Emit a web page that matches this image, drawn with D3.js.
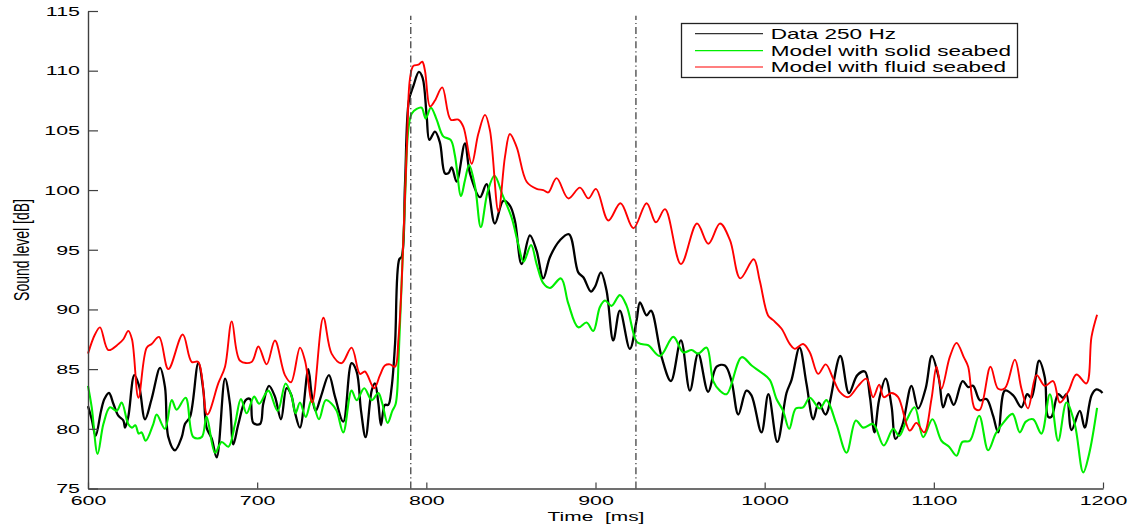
<!DOCTYPE html>
<html>
<head>
<meta charset="utf-8">
<script src="https://cdn.jsdelivr.net/npm/d3@7"></script>
<style>
  html, body { margin: 0; padding: 0; background: #fff; }
  svg { display: block; font-family: "Liberation Sans", Arial, Helvetica, sans-serif; }
</style>
</head>
<body>
<svg id="chart" width="1136" height="526"></svg>
<script>
// Measured sound level at 250 Hz (time in ms, level in dB)
const dataTime = [600,602.2,604.5,607.7,609.7,612.4,615,617.9,620.9,621.9,623.8,627.4,630.2,633.7,637.6,642.6,645.5,647.5,651.4,655.4,657.3,660.3,665.2,668.2,670.1,673.1,676.1,681,683.9,685.9,688.9,693.2,695.8,697.7,701.7,703.6,707,710.5,714.1,717.4,720,722.3,725.3,730.2,732.2,734.6,737.7,742.4,746,750.9,755.8,758.8,761.4,764.1,767.7,769.6,771.6,773.2,775.5,777.5,779.5,781.5,784,785.4,787.4,789.7,792.3,795.6,797.8,800.2,801.8,805.1,808,811,813,815,817.9,822.8,825.8,831.7,835.6,840.5,845.5,849.4,852.4,856.3,861.2,865.2,869.1,873.1,879,884.3,889.8,892.8,897.3,899.7,903.2,906.5,910.5,914.4,920.3,924.3,926.3,930.2,932.8,939.1,944.6,950.5,955.8,960.7,966.6,971.6,976.5,980.4,984.4,989.2,992.2,998.1,1002.2,1007.5,1012.9,1015.9,1020.6,1024.7,1028.7,1032,1036,1044.7,1049.8,1054.8,1059.2,1062.2,1064.9,1067.6,1071.5,1075,1077.4,1081.4,1086.8,1090.7,1095.2,1098.8,1103,1105.5,1108.5,1111.8,1117,1120.3,1123.2,1127.2,1131.1,1135,1138,1142,1146.9,1151.8,1155.2,1157.7,1162.2,1165.6,1167.6,1169.5,1173.5,1176.4,1178.4,1181.4,1186.3,1189.2,1193.2,1196.1,1198.1,1199.7];
const dataLevel = [81.9,80.8,79.4,81.5,82.5,83.0,82.1,81.1,80.7,80.1,81.0,84.5,83.6,80.8,82.5,85.1,83.5,79.3,78.2,79.3,80.4,81.0,85.5,83.2,80.1,79.2,77.6,84.2,82.1,78.7,80.4,82.4,82.5,80.5,80.4,82.1,83.6,82.7,80.8,83.4,82.9,81.4,80.1,85.0,82.9,81.5,82.7,84.5,82.7,80.6,85.5,84.8,81.5,79.3,83.2,83.8,82.2,80.3,82.0,82.0,83.5,87.1,94.2,94.4,100.5,107.5,108.7,109.9,109.4,106.2,104.2,104.9,104.0,101.4,101.4,101.9,100.7,103.9,101.4,99.4,100.5,97.2,99.1,98.7,97.4,93.8,96.2,94.9,92.6,94.4,95.8,96.3,93.1,92.7,91.5,91.9,93.1,91.6,87.4,89.9,86.7,89.1,90.6,89.5,89.9,86.0,84.0,87.4,83.2,86.3,83.1,85.2,85.3,84.0,81.2,83.2,82.8,79.7,82.9,78.9,83.0,84.1,86.8,83.8,80.8,82.2,81.2,86.1,83.0,84.5,84.8,82.7,79.7,82.4,84.2,81.9,79.15,80.3,83.6,81.7,83.4,86.1,84.2,81.8,82.9,82.0,84.0,83.5,83.6,82.4,82.5,81.1,79.7,83.2,82.8,81.8,82.9,82.6,85.7,84.3,81.0,81.0,82.9,82.6,82.9,79.9,81.5,80.1,82.8,83.3,83.2,83.0];

// Model with solid seabed
const solidTime = [600,602.2,605.7,609.1,613,617,619.9,623.8,626,628,630,631.7,634.1,638.6,640.6,645.5,649.5,652.4,657.7,662.3,667.2,670.1,675.1,679,683,686.9,690.4,693.8,698.2,701.2,706.6,712.1,716.8,720.4,722.7,725.3,728.7,732.2,736.5,740.5,744,747,750.9,755.8,758.8,763.3,767.7,771.6,774,777.1,779.9,781.9,783.8,785.4,787.4,789.3,791.3,794.3,797.2,799.6,802.7,806.1,810,814.4,816.9,820.5,822.8,825.3,828.8,832.2,836.3,840.3,845,850.4,854.3,857.5,861.9,865.2,869.1,873.1,879.6,883.9,889.8,894.7,898.7,902.6,905.6,909.5,914.4,918.4,924.3,927.2,931.2,938.1,946,951.9,956.8,960.7,965.7,969.6,973.5,977.5,986.4,992.3,998.2,1003,1007,1010.9,1014.5,1018.4,1022.7,1026.7,1032.6,1036.5,1042.4,1048.4,1053.9,1058.2,1064.1,1070.4,1076,1079.5,1083.8,1088.7,1093.7,1099.2,1104.5,1109,1113.4,1116.9,1121.3,1126.8,1132.1,1136.6,1141,1146.5,1150.8,1154.4,1158.7,1163.6,1168.6,1173.5,1178.4,1183.3,1188.3,1191.8,1196.5];
const solidLevel = [83.6,81.8,77.9,80.4,81.8,81.5,82.2,80.4,80.1,80.3,79.6,79.7,79.0,80.4,81.2,80.0,82.4,81.6,82.6,79.3,79.3,81.0,78.0,78.9,78.5,80.4,82.5,81.3,82.7,82.1,83.2,81.5,83.8,82.7,81.3,82.2,81.0,82.4,80.8,82.4,82.1,81.5,79.7,83.2,82.4,83.4,82.4,83.0,82.1,80.5,81.5,82.1,86.6,92.2,99.2,105.0,106.4,106.8,106.9,106.0,106.9,105.9,104.5,104.2,102.9,99.5,100.8,102.1,100.3,96.9,99.9,101.2,99.6,97.7,95.5,94.0,95.4,93.8,92.2,91.8,92.6,90.5,88.5,88.9,88.2,90.2,90.75,90.3,91.2,90.3,87.3,87.1,87.0,86.1,87.7,86.4,86.6,86.3,86.8,84.0,83.2,82.9,86.0,85.3,84.7,84.1,82.5,81.5,80.0,81.7,81.8,82.6,81.7,82.4,80.4,78.0,80.7,80.1,80.4,78.6,80.0,79.4,80.7,81.8,79.3,80.8,79.0,78.5,77.75,78.9,79.0,81.1,78.2,79.6,80.5,81.25,79.7,80.6,80.8,79.6,82.9,79.0,82.2,80.4,76.35,77.9,81.75];

// Model with fluid seabed
const fluidTime = [600,604.1,607.1,612,618,620.9,623.8,626,629.8,634.7,637.6,642,647.5,656,661.3,665.2,670.5,677,681,685,689.9,696.7,700.7,705.6,710.5,716.4,720,725.3,728.3,732.6,739.1,744,749.9,755.8,760.8,763.7,769.2,772.6,775.5,778.5,781.5,783.5,785.4,788.4,790.3,792.3,795.3,797.6,799.2,802.2,805.1,809.4,814.4,818.9,821.9,826.8,830.7,834.7,837.6,842.6,846.5,849.4,853.4,859.3,865.2,869.1,872.1,877,883.9,890.8,895.8,900.3,907.6,914.8,922.4,930.2,935.7,941.1,950.5,960,966.7,973.6,979.5,985.6,993.5,997.1,1002,1005,1009.9,1014.9,1017.8,1022.7,1026.7,1031.6,1036.1,1040.5,1044.4,1049.3,1055.3,1060.2,1064.1,1067.7,1070.4,1075,1078.9,1085.8,1089.7,1094.3,1098.6,1101.6,1104.5,1109.4,1113.4,1117.7,1120.3,1124.2,1127.2,1133.5,1138,1142,1147.9,1151.8,1155.7,1160.7,1165.6,1170.5,1174.5,1179.4,1184.3,1190.2,1193.2,1196.5];
const fluidLevel = [86.3,87.9,88.5,86.6,87.1,87.5,88.2,87.5,82.6,86.8,87.1,87.7,85.0,87.9,85.6,85.6,81.2,83.8,85.2,89.0,85.7,85.6,86.9,85.4,87.4,84.5,83.9,86.8,85.7,82.2,89.3,86.3,85.5,86.8,84.6,84.8,83.4,84.5,85.3,85.4,85.2,87.5,92.2,103.3,109.3,110.4,110.5,110.75,110.0,107.0,107.5,108.6,105.9,105.9,105.3,102.2,104.7,106.3,105.0,98.2,102.8,104.7,103.6,100.7,100.1,100.0,99.8,101.0,99.3,100.2,99.3,100.1,97.45,98.9,96.8,98.9,97.3,98.4,93.8,97.2,95.5,97.2,95.8,92.6,94.2,92.4,89.5,89.1,88.4,87.1,86.7,87.1,86.4,84.6,85.4,84.2,83.1,82.65,83.6,84.2,82.65,83.7,82.65,83.0,82.65,79.85,80.5,79.7,82.5,85.2,83.35,86.0,87.2,86.0,85.2,81.7,81.6,85.2,83.35,83.4,85.8,83.35,81.7,84.5,83.6,84.0,82.2,83.1,84.55,83.8,87.7,89.55];

const xTicks = [600, 700, 800, 900, 1000, 1100, 1200];
const yTicks = [75, 80, 85, 90, 95, 100, 105, 110, 115];
const markerTimes = [790.8, 923.9];          // window boundaries (ms)
const legendLabels = ["Data 250 Hz", "Model with solid seabed", "Model with fluid seabed"];
const xLabel = "Time  [ms]";
const yLabel = "Sound level [dB]";

// ---- drawing ----
const STRETCH = 1.61;   // wide text aspect of the figure
const svg = d3.select("#chart");

const x = d3.scaleLinear().domain([600, 1200]).range([88, 1103]);
const y = d3.scaleLinear().domain([75, 115]).range([488.5, 11]);

const series = [
  { t: dataTime,  v: dataLevel,  color: "#000000", width: 2.3, legendWidth: 1.2, legendColor: "#333" },
  { t: solidTime, v: solidLevel, color: "#00ee00", width: 2.1, legendWidth: 1.3, legendColor: "#00ee00" },
  { t: fluidTime, v: fluidLevel, color: "#ff0000", width: 1.9, legendWidth: 1.1, legendColor: "#ff0000" }
];

const line = d3.line()
  .x(d => x(d[0]))
  .y(d => y(d[1]))
  .curve(d3.curveCatmullRom.alpha(0.5));

// curves
series.forEach(s => {
  svg.append("path")
    .datum(s.t.map((t, i) => [t, s.v[i]]))
    .attr("fill", "none")
    .attr("stroke", s.color)
    .attr("stroke-width", s.width)
    .attr("stroke-linejoin", "round")
    .attr("d", line);
});

// dash-dot window markers
svg.append("g").selectAll("line")
  .data(markerTimes)
  .join("line")
  .attr("x1", d => x(d)).attr("x2", d => x(d))
  .attr("y1", y(75)).attr("y2", y(114.6))
  .attr("stroke", "#444")
  .attr("stroke-width", 1.3)
  .attr("stroke-dasharray", "7,3,1.2,3");

// axes
const axisColor = "#404040";
const gx = svg.append("g")
  .attr("transform", `translate(0,${y(75)})`)
  .call(d3.axisBottom(x).tickValues(xTicks).tickFormat(d3.format("d"))
    .tickSizeInner(-6).tickSizeOuter(0).tickPadding(7));
const gy = svg.append("g")
  .attr("transform", `translate(${x(600)},0)`)
  .call(d3.axisLeft(y).tickValues(yTicks).tickFormat(d3.format("d"))
    .tickSizeInner(-10).tickSizeOuter(0).tickPadding(8));

[gx, gy].forEach(g => {
  g.attr("font-family", null).attr("font-size", 13.3);
  g.select(".domain").attr("stroke", axisColor).attr("stroke-width", 1.4);
  g.selectAll(".tick line").attr("stroke", axisColor).attr("stroke-width", 1.2);
  g.selectAll(".tick text").attr("fill", "#000");
});
gx.selectAll(".tick text").each(function () {
  const t = d3.select(this);
  const yy = +t.attr("y");
  t.attr("y", null).attr("transform", `translate(0,${yy}) scale(${STRETCH},1)`);
});
gy.selectAll(".tick text").each(function () {
  const t = d3.select(this);
  const xx = +t.attr("x");
  t.attr("x", null).attr("transform", `translate(${xx},0) scale(${STRETCH},1)`);
});

// axis titles
svg.append("text")
  .attr("transform", `translate(596,521) scale(${STRETCH},1)`)
  .attr("text-anchor", "middle")
  .attr("font-size", 13)
  .style("white-space", "pre")
  .text(xLabel);

svg.append("text")
  .attr("transform", `translate(21.5,250) scale(${STRETCH},1) rotate(-90)`)
  .attr("text-anchor", "middle")
  .attr("dy", "0.35em")
  .attr("font-size", 14)
  .text(yLabel);

// legend
const lg = svg.append("g");
lg.append("rect")
  .attr("x", 681.5).attr("y", 23.5)
  .attr("width", 336).attr("height", 54)
  .attr("fill", "#fff")
  .attr("stroke", "#222")
  .attr("stroke-width", 1.3);
const rowY = [33.7, 50.7, 67];
const rowBase = [39.3, 56, 72.3];
legendLabels.forEach((label, i) => {
  lg.append("line")
    .attr("x1", 695).attr("x2", 763)
    .attr("y1", rowY[i]).attr("y2", rowY[i])
    .attr("stroke", series[i].legendColor)
    .attr("stroke-width", series[i].legendWidth);
  lg.append("text")
    .attr("transform", `translate(770.7,${rowBase[i]}) scale(${STRETCH},1)`)
    .attr("font-size", 14)
    .text(label);
});
</script>
</body>
</html>
